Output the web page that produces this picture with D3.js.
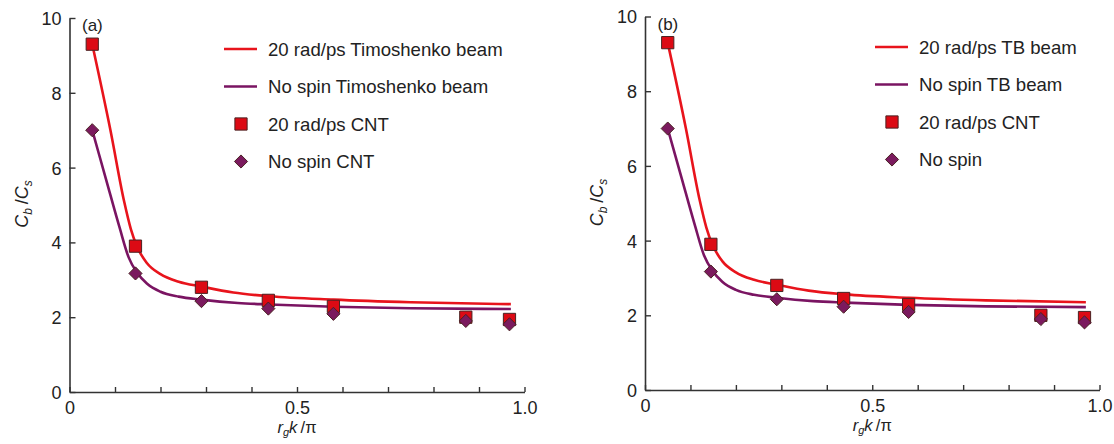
<!DOCTYPE html>
<html>
<head>
<meta charset="utf-8">
<script src="https://cdn.jsdelivr.net/npm/d3@7"></script>
<style>
  body { margin: 0; background: #fff; }
  svg { display: block; font-family: "Liberation Sans", Arial, sans-serif; }
</style>
</head>
<body>
<div class="canvas"></div>
<script>
// CNT simulation points (same in both panels)
const cntX = [0.05, 0.145, 0.29, 0.437, 0.58, 0.871, 0.967];
const spinCnt = [9.3, 3.9, 2.8, 2.45, 2.29, 2.0, 1.94];
const noSpinCnt = [7.0, 3.17, 2.43, 2.23, 2.09, 1.9, 1.81];

// Timoshenko beam curves
const spinBeamX = [0.05, 0.09, 0.12, 0.135, 0.148, 0.17, 0.2, 0.24, 0.29, 0.36, 0.44, 0.58, 0.75, 0.97];
const spinBeam = [9.3, 7.0, 5.1, 4.35, 3.9, 3.45, 3.15, 2.95, 2.82, 2.66, 2.56, 2.47, 2.4, 2.35];
const noSpinBeamX = [0.05, 0.08, 0.11, 0.13, 0.148, 0.17, 0.2, 0.24, 0.29, 0.37, 0.44, 0.58, 0.75, 0.97];
const noSpinBeam = [7.0, 5.7, 4.4, 3.6, 3.2, 2.9, 2.68, 2.55, 2.47, 2.38, 2.34, 2.28, 2.24, 2.22];

const yTicks = [0, 2, 4, 6, 8, 10];
const xTicks = [0, 0.1, 0.2, 0.3, 0.4, 0.5, 0.6, 0.7, 0.8, 0.9, 1.0];
const xLabels = {0: '0', 0.5: '0.5', 1: '1.0'};

const legendA = ['20 rad/ps Timoshenko beam', 'No spin Timoshenko beam', '20 rad/ps CNT', 'No spin CNT'];
const legendB = ['20 rad/ps TB beam', 'No spin TB beam', '20 rad/ps CNT', 'No spin'];

const red = '#e8141c', purple = '#7a1462';
const redFill = '#dc0a14', purpleFill = '#7b1a5e', markStroke = '#4a2222';

const svg = d3.select('.canvas')
.append('svg')
.attr('width', 1114)
.attr('height', 444);

const panels = [
  {tag: '(a)', x0: 69.5, x1: 524.5, y0: 392, y1: 18, legend: legendA, lx: 224, ly: 49},
  {tag: '(b)', x0: 645, x1: 1099.5, y0: 390, y1: 16.5, legend: legendB, lx: 875, ly: 47}
];

const drawPanel = (p) => {
  const x = d3.scaleLinear().domain([0, 1]).range([p.x0, p.x1]);
  const y = d3.scaleLinear().domain([0, 10]).range([p.y0, p.y1]);
  const g = svg.append('g');

  // axes
  const xAxis = d3.axisBottom(x)
  .tickValues(xTicks)
  .tickSizeInner(-5)
  .tickSizeOuter(0)
  .tickPadding(13)
  .tickFormat(d => xLabels[d] || '');
  const yAxis = d3.axisLeft(y)
  .tickValues(yTicks)
  .tickSizeInner(-6)
  .tickSizeOuter(0)
  .tickPadding(8);

  const gx = g.append('g').attr('transform', `translate(0, ${p.y0})`).call(xAxis);
  const gy = g.append('g').attr('transform', `translate(${p.x0}, 0)`).call(yAxis);
  [gx, gy].forEach(a => {
    a.select('.domain').attr('stroke', '#333').attr('stroke-width', 1.6);
    a.selectAll('.tick line').attr('stroke', '#333').attr('stroke-width', 1.4);
    a.selectAll('.tick text').attr('fill', '#222').style('font-size', '18px').attr('font-family', null);
  });
  gy.selectAll('.tick text').attr('dy', '0.36em');
  gx.selectAll('.tick text').attr('dy', '0.5em');

  // curves
  const line = d3.line()
  .x(d => x(d[0]))
  .y(d => y(d[1]))
  .curve(d3.curveMonotoneX);

  g.append('path')
  .datum(d3.zip(noSpinBeamX, noSpinBeam))
  .attr('fill', 'none')
  .attr('stroke', purple)
  .attr('stroke-width', 2.6)
  .attr('d', line);

  g.append('path')
  .datum(d3.zip(spinBeamX, spinBeam))
  .attr('fill', 'none')
  .attr('stroke', red)
  .attr('stroke-width', 2.6)
  .attr('d', line);

  // markers
  const square = d3.symbol().type(d3.symbolSquare).size(150);
  const diamond = d3.symbol().type(d3.symbolDiamond2).size(110);

  g.selectAll('.sq')
  .data(d3.zip(cntX, spinCnt))
  .enter()
  .append('path')
  .attr('class', 'sq')
  .attr('d', square)
  .attr('fill', redFill)
  .attr('stroke', markStroke)
  .attr('stroke-width', 1)
  .attr('transform', d => `translate(${x(d[0])}, ${y(d[1])})`);

  g.selectAll('.dm')
  .data(d3.zip(cntX, noSpinCnt))
  .enter()
  .append('path')
  .attr('class', 'dm')
  .attr('d', diamond)
  .attr('fill', purpleFill)
  .attr('stroke', markStroke)
  .attr('stroke-width', 1)
  .attr('transform', d => `translate(${x(d[0])}, ${y(d[1])})`);

  // panel tag
  g.append('text')
  .attr('x', p.x0 + 12.5)
  .attr('y', p.y1 + 13)
  .attr('fill', '#222')
  .style('font-size', '17px')
  .text(p.tag);

  // axis titles
  const yt = g.append('text')
  .attr('transform', `translate(${p.x0 - 42}, ${p.y1 + 186}) rotate(-90)`)
  .attr('text-anchor', 'middle')
  .attr('fill', '#222')
  .style('font-size', '18px');
  yt.append('tspan').attr('font-style', 'italic').text('C');
  yt.append('tspan').attr('font-style', 'italic').style('font-size', '12px').attr('dy', 4).text('b');
  yt.append('tspan').attr('dy', -4).text('\u2009/');
  yt.append('tspan').attr('font-style', 'italic').text('C');
  yt.append('tspan').attr('font-style', 'italic').style('font-size', '12px').attr('dy', 4).text('s');

  const xt = g.append('text')
  .attr('x', x(0.5))
  .attr('y', p.y0 + 41)
  .attr('text-anchor', 'middle')
  .attr('fill', '#222')
  .style('font-size', '16.5px');
  xt.append('tspan').attr('font-style', 'italic').text('r');
  xt.append('tspan').attr('font-style', 'italic').style('font-size', '11px').attr('dy', 3).text('g');
  xt.append('tspan').attr('font-style', 'italic').attr('dy', -3).text('k');
  xt.append('tspan').text('\u2009/\u03c0');

  // legend
  const lg = g.append('g').attr('transform', `translate(${p.lx}, ${p.ly})`);
  const rowGap = 37.5;
  p.legend.forEach((label, i) => {
    const ry = i * rowGap;
    if (i === 0 || i === 1) {
      lg.append('line')
      .attr('x1', 0).attr('x2', 33)
      .attr('y1', ry).attr('y2', ry)
      .attr('stroke', i === 0 ? red : purple)
      .attr('stroke-width', 2.6);
    } else {
      lg.append('path')
      .attr('d', i === 2 ? square : diamond)
      .attr('fill', i === 2 ? redFill : purpleFill)
      .attr('stroke', markStroke)
      .attr('stroke-width', 1)
      .attr('transform', `translate(17, ${ry})`);
    }
    lg.append('text')
    .attr('x', 44)
    .attr('y', ry)
    .attr('dy', '0.35em')
    .attr('fill', '#222')
    .style('font-size', '18.6px')
    .text(label);
  });
};

panels.forEach(drawPanel);
</script>
</body>
</html>
